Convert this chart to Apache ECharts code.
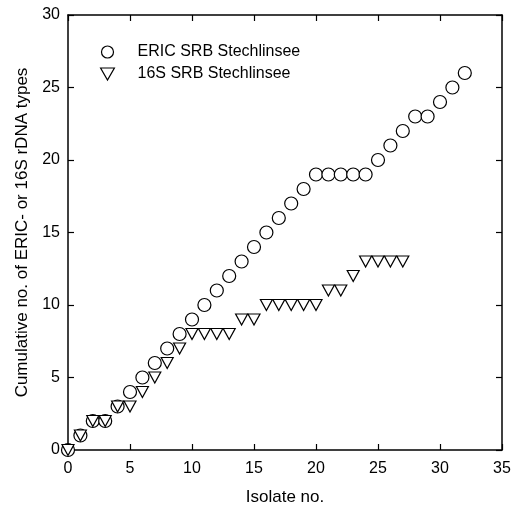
<!DOCTYPE html>
<html><head><meta charset="utf-8">
<script src="https://cdn.jsdelivr.net/npm/echarts@6/dist/echarts.min.js"></script>
<style>html,body{margin:0;padding:0;background:#fff}#c{width:513px;height:508px}</style>
</head><body><div id="c"></div>
<script>
const ericX = [0,1,2,3,4,5,6,7,8,9,10,11,12,13,14,15,16,17,18,19,20,21,22,23,24,25,26,27,28,29,30,31,32];
const ericY = [0,1,2,2,3,4,5,6,7,8,9,10,11,12,13,14,15,16,17,18,19,19,19,19,19,20,21,22,23,23,24,25,26];
const s16X = [0,1,2,3,4,5,6,7,8,9,10,11,12,13,14,15,16,17,18,19,20,21,22,23,24,25,26,27];
const s16Y = [0,1,2,2,3,3,4,5,6,7,8,8,8,8,9,9,10,10,10,10,10,11,11,12,13,13,13,13];
const seriesNames = ['ERIC SRB Stechlinsee','16S SRB Stechlinsee'];
const xTicks = [0,5,10,15,20,25,30,35];
const yTicks = [0,5,10,15,20,25,30];

const tri = 'path://M0,0 L10,0 L5,8.7 Z';
const font = 'Liberation Sans, Arial, sans-serif';
const chart = echarts.init(document.getElementById('c'), null, {renderer:'canvas'});
const axisCommon = {
  type:'value', interval:5, splitLine:{show:false},
  axisLine:{show:true, onZero:false, lineStyle:{color:'#000', width:1.5}},
  axisTick:{show:true, inside:true, length:6, lineStyle:{color:'#000', width:1.2}}
};
chart.setOption({
  animation:false,
  backgroundColor:'#fff',
  grid:{left:68, right:11, top:15, bottom:58, show:false, containLabel:false, outerBoundsMode:'none'},
  legend:{
    orient:'vertical', left:95, top:39, itemGap:6, itemWidth:50, itemHeight:12, symbolKeepAspect:true,
    textStyle:{fontFamily:font, fontSize:16, color:'#000'},
    data:[
      {name:seriesNames[0], icon:'circle', itemStyle:{color:'#fff', borderColor:'#000', borderWidth:1.2}},
      {name:seriesNames[1], icon:tri, itemStyle:{color:'#fff', borderColor:'#000', borderWidth:1.2}}
    ]
  },
  xAxis:[
    Object.assign({}, axisCommon, {min:0, max:35, position:'bottom',
      name:'Isolate no.', nameLocation:'middle', nameGap:39,
      nameTextStyle:{fontFamily:font, fontSize:17, color:'#000'},
      axisLabel:{fontFamily:font, fontSize:16, color:'#000', margin:11,
        formatter:v=>xTicks.includes(v)?String(v):''}}),
    Object.assign({}, axisCommon, {min:0, max:35, position:'top', axisLabel:{show:false}})
  ],
  yAxis:[
    Object.assign({}, axisCommon, {min:0, max:30, position:'left',
      name:'Cumulative no. of ERIC- or 16S rDNA types', nameLocation:'middle', nameGap:36,
      nameTextStyle:{fontFamily:font, fontSize:17, color:'#000'},
      axisLabel:{fontFamily:font, fontSize:16, color:'#000', margin:8,
        formatter:v=>yTicks.includes(v)?String(v):''}}),
    Object.assign({}, axisCommon, {min:0, max:30, position:'right', axisLabel:{show:false}})
  ],
  series:[
    {name:seriesNames[0], type:'scatter', symbol:'circle', symbolSize:13,
      itemStyle:{color:'#fff', borderColor:'#000', borderWidth:1.2, opacity:1},
      data:ericX.map((x,i)=>[x, ericY[i]]), z:2},
    {name:seriesNames[1], type:'scatter', symbol:tri, symbolSize:[12,11],
      itemStyle:{color:'#fff', borderColor:'#000', borderWidth:1.2, opacity:1},
      data:s16X.map((x,i)=>[x, s16Y[i]]), z:3}
  ]
});
</script></body></html>
